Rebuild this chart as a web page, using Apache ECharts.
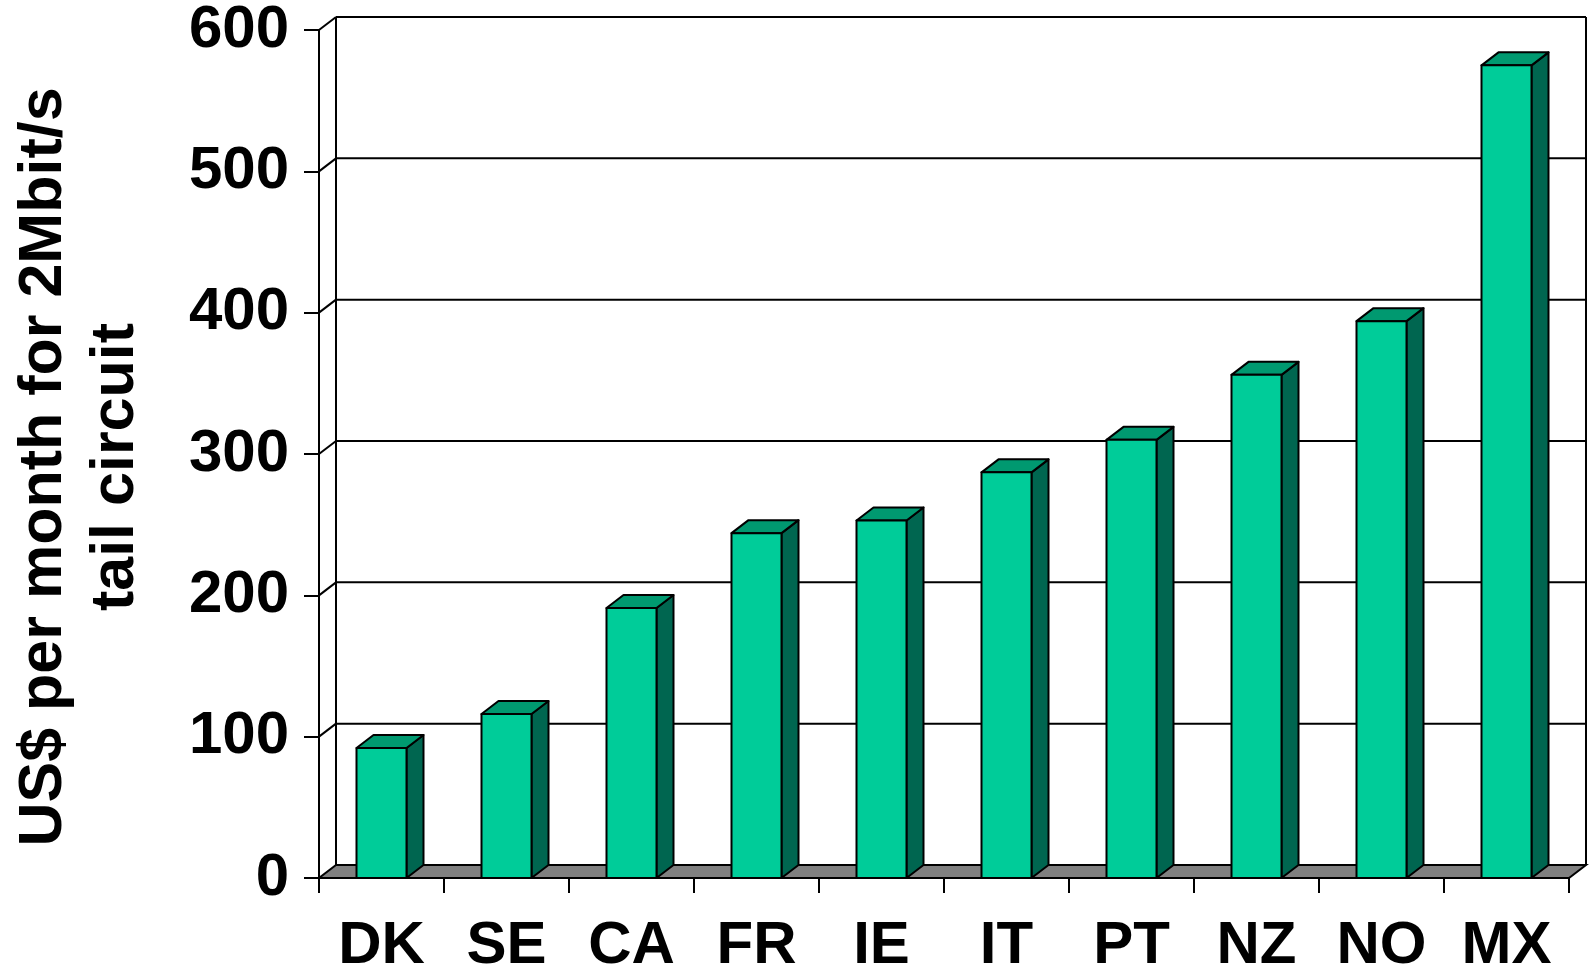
<!DOCTYPE html>
<html>
<head>
<meta charset="utf-8">
<script src="https://cdn.jsdelivr.net/npm/echarts@6/dist/echarts.min.js"></script>
<style>html,body{margin:0;padding:0;background:#fff;}#c{width:1591px;height:976px;}</style>
</head>
<body>
<div id="c"></div>
<script>
const categories = ['DK', 'SE', 'CA', 'FR', 'IE', 'IT', 'PT', 'NZ', 'NO', 'MX'];
const values = [92, 116, 191, 244, 253, 287, 310, 356, 394, 575];
const yTicks = [0, 100, 200, 300, 400, 500, 600];
const yTitle = 'US$ per month for 2Mbit/s\ntail circuit';

const DX = 17, DY = -13;
const FONT = "'Liberation Sans', Arial, Helvetica, sans-serif";
const chart = echarts.init(document.getElementById('c'), null, {renderer: 'canvas'});

function frameItem(params, api) {
  const v = api.value(1);
  const n = categories.length;
  const bw = api.size([1, 0])[0];
  const p = api.coord([0, v]);
  const left = p[0] - bw / 2;
  const right = api.coord([n - 1, v])[0] + bw / 2;
  const y = p[1];
  const children = [];
  const stroke = {stroke: '#000', lineWidth: 2, fill: null};
  if (v === yTicks[0]) {
    children.push({type: 'polygon', shape: {points: [[left, y], [right, y], [right + DX, y + DY], [left + DX, y + DY]]},
      style: {fill: '#808080', stroke: '#000', lineWidth: 2}});
  } else {
    children.push({type: 'line', shape: {x1: left + DX, y1: y + DY, x2: right + DX, y2: y + DY}, style: stroke});
    children.push({type: 'line', shape: {x1: left, y1: y, x2: left + DX, y2: y + DY}, style: stroke});
  }
  if (v === yTicks[yTicks.length - 1]) {
    const y0 = api.coord([0, yTicks[0]])[1];
    children.push({type: 'line', shape: {x1: left + DX, y1: y + DY, x2: left + DX, y2: y0 + DY}, style: stroke});
    children.push({type: 'line', shape: {x1: right + DX, y1: y + DY, x2: right + DX, y2: y0 + DY}, style: stroke});
  }
  return {type: 'group', children};
}

function barItem(params, api) {
  const top = api.coord([api.value(0), api.value(1)]);
  const base = api.coord([api.value(0), 0]);
  const w = api.size([1, 0])[0] * 0.4;
  const x0 = top[0] - w / 2, x1 = top[0] + w / 2;
  const yt = top[1], yb = base[1];
  const st = {stroke: '#000', lineWidth: 2, lineJoin: 'round'};
  return {type: 'group', children: [
    {type: 'polygon', shape: {points: [[x1, yb], [x1 + DX, yb + DY], [x1 + DX, yt + DY], [x1, yt]]},
      style: Object.assign({fill: '#006650'}, st)},
    {type: 'polygon', shape: {points: [[x0, yt], [x1, yt], [x1 + DX, yt + DY], [x0 + DX, yt + DY]]},
      style: Object.assign({fill: '#009970'}, st)},
    {type: 'rect', shape: {x: x0, y: yt, width: w, height: yb - yt},
      style: Object.assign({fill: '#00CC99'}, st)}
  ]};
}

chart.setOption({
  backgroundColor: '#fff',
  animation: false,
  grid: {left: 317, right: 22, top: 30, bottom: 93},
  xAxis: {
    type: 'category',
    data: categories,
    axisLine: {show: true, lineStyle: {color: '#000', width: 2}},
    axisTick: {show: true, length: 15, interval: 0, lineStyle: {color: '#000', width: 2}},
    axisLabel: {margin: 38, interval: 0, color: '#000', fontSize: 60, fontWeight: 'bold', fontFamily: FONT},
    splitLine: {show: false}
  },
  yAxis: {
    type: 'value',
    min: 0, max: 600, interval: 100,
    name: yTitle,
    nameLocation: 'middle',
    nameRotate: 90,
    nameGap: 167,
    nameTextStyle: {color: '#000', fontSize: 61, fontWeight: 'bold', fontFamily: FONT, lineHeight: 72, align: 'center', padding: [0, 26, 0, 0]},
    axisLine: {show: true, lineStyle: {color: '#000', width: 2}},
    axisTick: {show: true, length: 15, lineStyle: {color: '#000', width: 2}},
    axisLabel: {margin: 30, color: '#000', fontSize: 60, fontWeight: 'bold', fontFamily: FONT},
    splitLine: {show: false}
  },
  series: [
    {type: 'custom', renderItem: frameItem, data: yTicks.map(v => [0, v]), z: 1, silent: true, clip: false},
    {type: 'custom', renderItem: barItem, data: values.map((v, i) => [i, v]), z: 3, silent: true, clip: false}
  ]
});
</script>
</body>
</html>
